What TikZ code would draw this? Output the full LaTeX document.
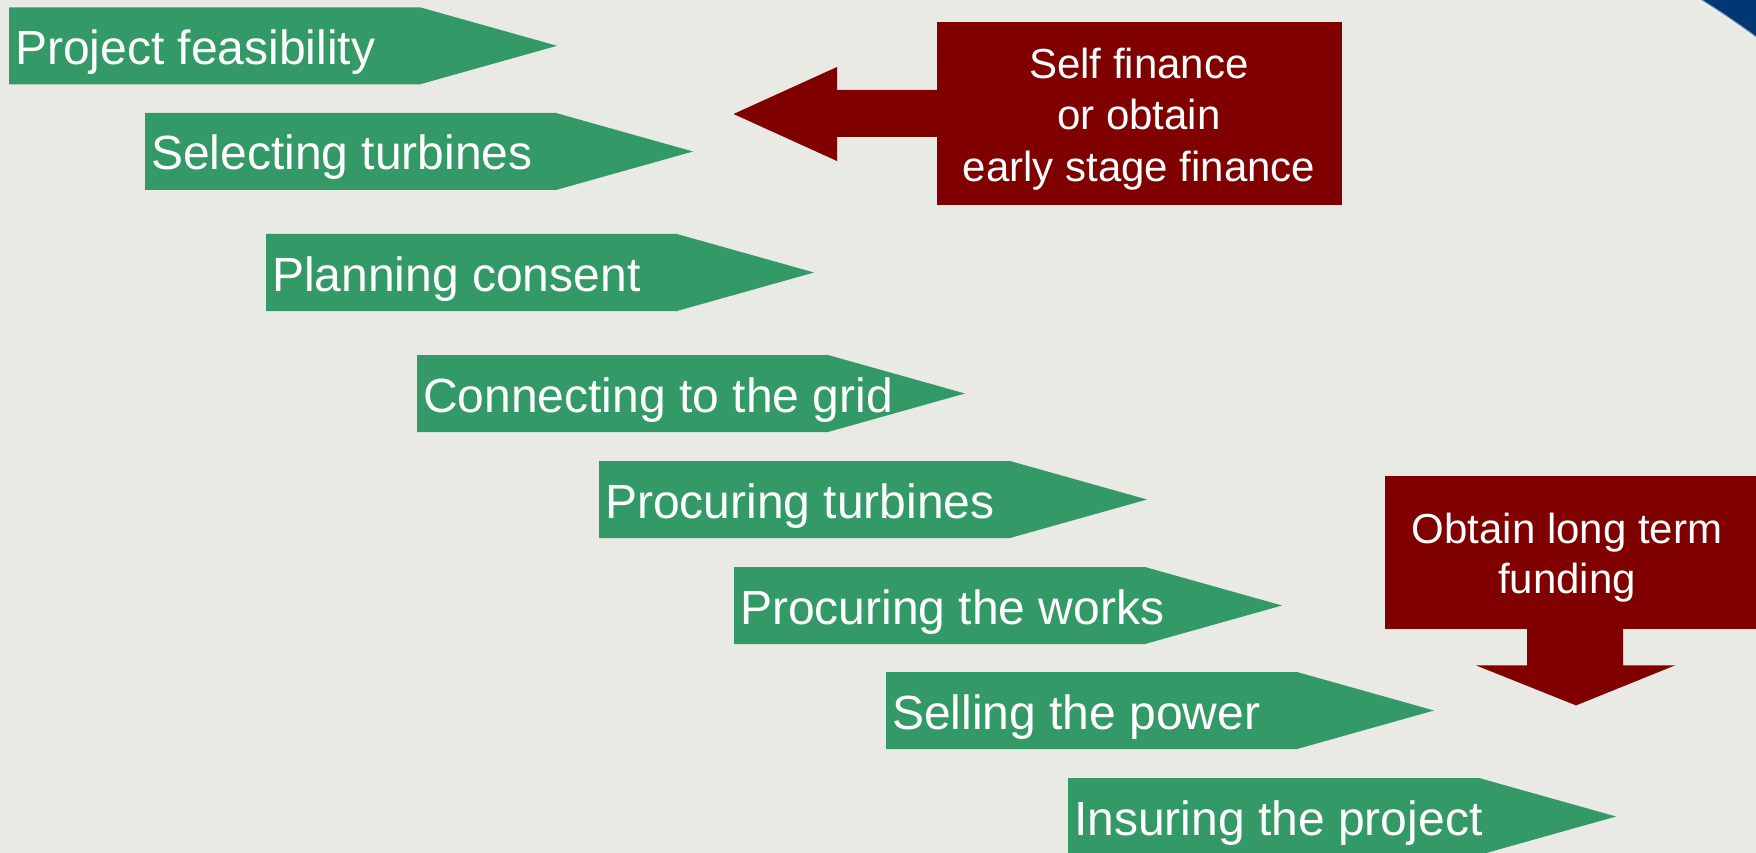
\documentclass[tikz,border=0pt]{standalone}
\usepackage{fontspec}
\setmainfont{Liberation Sans}
\definecolor{bg}{RGB}{234,234,229}
\definecolor{stepgreen}{RGB}{51,153,102}
\definecolor{finred}{RGB}{128,0,0}
\definecolor{cornerblue}{RGB}{0,56,118}
\tikzset{
  greenarrow/.style={fill=stepgreen},
  greentext/.style={anchor=base west, inner sep=0pt, text=white, font=\fontsize{48}{58}\selectfont},
  redtext/.style={anchor=base, inner sep=0pt, text=white, font=\fontsize{42}{50}\selectfont},
  redbox/.style={fill=finred, draw=none, inner sep=0pt, anchor=north west},
  redarrow/.style={fill=finred},
}
\begin{document}
\begin{tikzpicture}[x=1pt,y=-1pt]
\useasboundingbox (0,0) rectangle (1756,853);
\fill[bg] (0,0) rectangle (1756,853);
% blue corner
\fill[cornerblue] (1223,763) ++(-59:900) arc[start angle=-59, end angle=-52, radius=900] -- (1790,-20) -- (1680,-20) -- cycle;
\draw[white, opacity=0.6, line width=2.5pt] (1223,763) ++(-59:900) arc[start angle=-59, end angle=-52, radius=900];
% green step arrows
\foreach \L/\T/\txt/\nm in {9/7.3/Project feasibility/a1, 145/113/Selecting turbines/a2, 266/234/Planning consent/a3, 417/355/Connecting to the grid/a4, 599/461/Procuring turbines/a5, 734/567/Procuring the works/a6, 886/672/Selling the power/a7, 1068/778/Insuring the project/a8}{
  \fill[greenarrow] (\L,\T) -- ++(411,0) -- ++(137,38.5) -- ++(-137,38.5) -- ++(-411,0) -- cycle;
  \node[greentext] (\nm) at (\L+6,\T+57) {\txt};
}
% red box 1 with left arrow
\node[redbox, minimum width=405pt, minimum height=183pt] (b1) at (937,22) {};
\fill[redarrow] (b1.north west) ++(0.5,68) -- ++(-100.5,0) -- ++(0,-23) -- ++(-103.5,47) -- ++(103.5,47) -- ++(0,-24) -- ++(100.5,0) -- cycle;
\node[redtext] (s1) at (1139,79) {Self finance};
\node[redtext] (s2) at (1139,130) {or obtain};
\node[redtext] (s3) at (1139,182) {early stage finance};
% red box 2 with down arrow
\node[redbox, minimum width=380pt, minimum height=153pt] (b2) at (1385,476) {};
\fill[redarrow] (b2.south west) ++(142,-1) -- ++(0,37) -- ++(-51,0) -- ++(100,40) -- ++(99,-40) -- ++(-52,0) -- ++(0,-37) -- cycle;
\node[redtext] (l1) at (1567,543) {Obtain long term};
\node[redtext] (l2) at (1567,593) {funding};
\end{tikzpicture}
\end{document}
